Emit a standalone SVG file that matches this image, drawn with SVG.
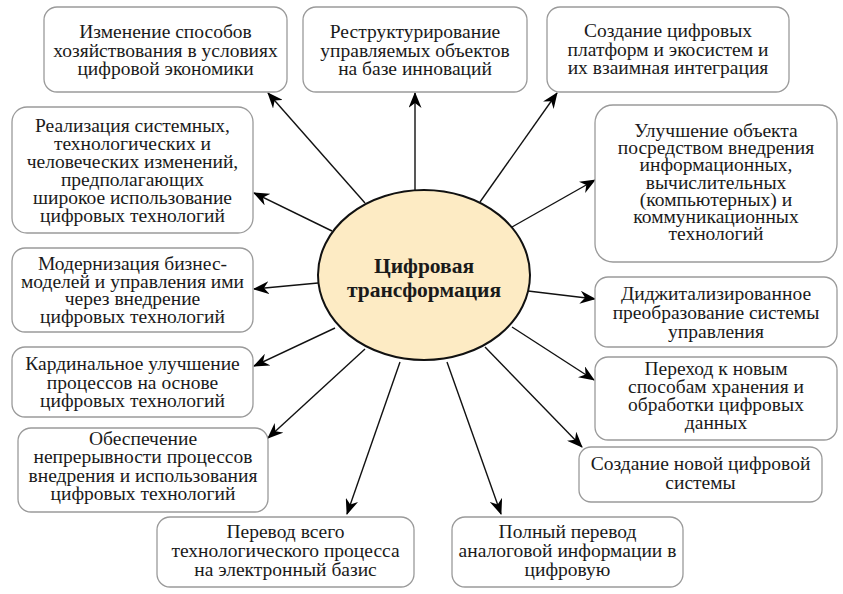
<svg xmlns="http://www.w3.org/2000/svg" width="843" height="594" viewBox="0 0 843 594">
<style>
.box{fill:#fff;stroke:#9a9a9a;stroke-width:1.3}
.t{font-family:'Liberation Serif','Times New Roman',serif;font-size:19.5px;fill:#1a1a1a;text-anchor:middle}
.c{font-family:'Liberation Serif','Times New Roman',serif;font-size:21.5px;font-weight:bold;fill:#1a1a1a;text-anchor:middle}
.ln{stroke:#111;stroke-width:1.4;fill:none;marker-end:url(#ah)}
</style>
<defs>
<marker id="ah" viewBox="0 0 16 13" refX="15" refY="6.5" markerWidth="16" markerHeight="13" markerUnits="userSpaceOnUse" orient="auto">
<path d="M0,0 L16,6.5 L0,13 L5,6.5 z" fill="#000"/>
</marker>
</defs>
<rect width="843" height="594" fill="#fff"/>
<g id="connectors">
<line class="ln" x1="365" y1="203" x2="268" y2="93"/>
<line class="ln" x1="415" y1="190" x2="415" y2="93"/>
<line class="ln" x1="480" y1="202" x2="557" y2="93"/>
<line class="ln" x1="332" y1="231" x2="254" y2="193"/>
<line class="ln" x1="512" y1="227" x2="595" y2="180"/>
<line class="ln" x1="318" y1="283" x2="254" y2="289"/>
<line class="ln" x1="528" y1="291" x2="595" y2="299"/>
<line class="ln" x1="335" y1="328" x2="254" y2="366"/>
<line class="ln" x1="512" y1="327" x2="594" y2="380"/>
<line class="ln" x1="365" y1="349" x2="268" y2="438"/>
<line class="ln" x1="485" y1="347" x2="582" y2="447"/>
<line class="ln" x1="400" y1="362" x2="347" y2="514"/>
<line class="ln" x1="447" y1="362" x2="501" y2="514"/>
</g>
<g id="center">
<ellipse cx="424" cy="275" rx="106" ry="85" fill="#fdebc4" stroke="#111" stroke-width="2"/>
<text class="c" x="424" y="273">Цифровая</text>
<text class="c" x="424" y="297">трансформация</text>
</g>
<g id="n1">
<rect class="box" x="44" y="7" width="243" height="85" rx="13"/>
<text class="t" x="165.5" y="38">Изменение способов</text>
<text class="t" x="165.5" y="56.5">хозяйствования в условиях</text>
<text class="t" x="165.5" y="75">цифровой экономики</text>
</g>
<g id="n2">
<rect class="box" x="303" y="7" width="224" height="85" rx="13"/>
<text class="t" x="415" y="38">Реструктурирование</text>
<text class="t" x="415" y="56.5">управляемых объектов</text>
<text class="t" x="415" y="75">на базе инноваций</text>
</g>
<g id="n3">
<rect class="box" x="547" y="7" width="242" height="85" rx="13"/>
<text class="t" x="668" y="37">Создание цифровых</text>
<text class="t" x="668" y="55.5">платформ и экосистем и</text>
<text class="t" x="668" y="74">их взаимная интеграция</text>
</g>
<g id="n4">
<rect class="box" x="12" y="107" width="241" height="126" rx="15"/>
<text class="t" x="132.5" y="132">Реализация системных,</text>
<text class="t" x="132.5" y="150">технологических и</text>
<text class="t" x="132.5" y="168">человеческих изменений,</text>
<text class="t" x="132.5" y="186">предполагающих</text>
<text class="t" x="132.5" y="204">широкое использование</text>
<text class="t" x="132.5" y="222">цифровых технологий</text>
</g>
<g id="n5">
<rect class="box" x="595" y="105" width="242" height="157" rx="18"/>
<text class="t" x="716" y="137">Улучшение объекта</text>
<text class="t" x="716" y="154.2">посредством внедрения</text>
<text class="t" x="716" y="171.4">информационных,</text>
<text class="t" x="716" y="188.6">вычислительных</text>
<text class="t" x="716" y="205.8">(компьютерных) и</text>
<text class="t" x="716" y="223">коммуникационных</text>
<text class="t" x="716" y="240.2">технологий</text>
</g>
<g id="n6">
<rect class="box" x="12" y="248" width="241" height="84" rx="13"/>
<text class="t" x="132.5" y="270">Модернизация бизнес-</text>
<text class="t" x="132.5" y="287.5">моделей и управления ими</text>
<text class="t" x="132.5" y="305">через внедрение</text>
<text class="t" x="132.5" y="322.5">цифровых технологий</text>
</g>
<g id="n7">
<rect class="box" x="12" y="347" width="241" height="70" rx="13"/>
<text class="t" x="132.5" y="370">Кардинальное улучшение</text>
<text class="t" x="132.5" y="388.5">процессов на основе</text>
<text class="t" x="132.5" y="407">цифровых технологий</text>
</g>
<g id="n8">
<rect class="box" x="18" y="428" width="250" height="84" rx="13"/>
<text class="t" x="143" y="445">Обеспечение</text>
<text class="t" x="143" y="463.3">непрерывности процессов</text>
<text class="t" x="143" y="481.6">внедрения и использования</text>
<text class="t" x="143" y="500">цифровых технологий</text>
</g>
<g id="n9">
<rect class="box" x="157" y="517" width="257" height="70" rx="13"/>
<text class="t" x="285.5" y="538">Перевод всего</text>
<text class="t" x="285.5" y="557">технологического процесса</text>
<text class="t" x="285.5" y="576">на электронный базис</text>
</g>
<g id="n10">
<rect class="box" x="452" y="517" width="231" height="70" rx="13"/>
<text class="t" x="567.5" y="538">Полный перевод</text>
<text class="t" x="567.5" y="557">аналоговой информации в</text>
<text class="t" x="567.5" y="576">цифровую</text>
</g>
<g id="n11">
<rect class="box" x="595" y="277" width="242" height="70" rx="13"/>
<text class="t" x="716" y="300">Диджитализированное</text>
<text class="t" x="716" y="319">преобразование системы</text>
<text class="t" x="716" y="338">управления</text>
</g>
<g id="n12">
<rect class="box" x="595" y="357" width="242" height="83" rx="13"/>
<text class="t" x="716" y="375">Переход к новым</text>
<text class="t" x="716" y="393">способам хранения и</text>
<text class="t" x="716" y="411">обработки цифровых</text>
<text class="t" x="716" y="429">данных</text>
</g>
<g id="n13">
<rect class="box" x="579" y="447" width="243" height="55" rx="12"/>
<text class="t" x="700.5" y="470">Создание новой цифровой</text>
<text class="t" x="700.5" y="488.5">системы</text>
</g>
</svg>
